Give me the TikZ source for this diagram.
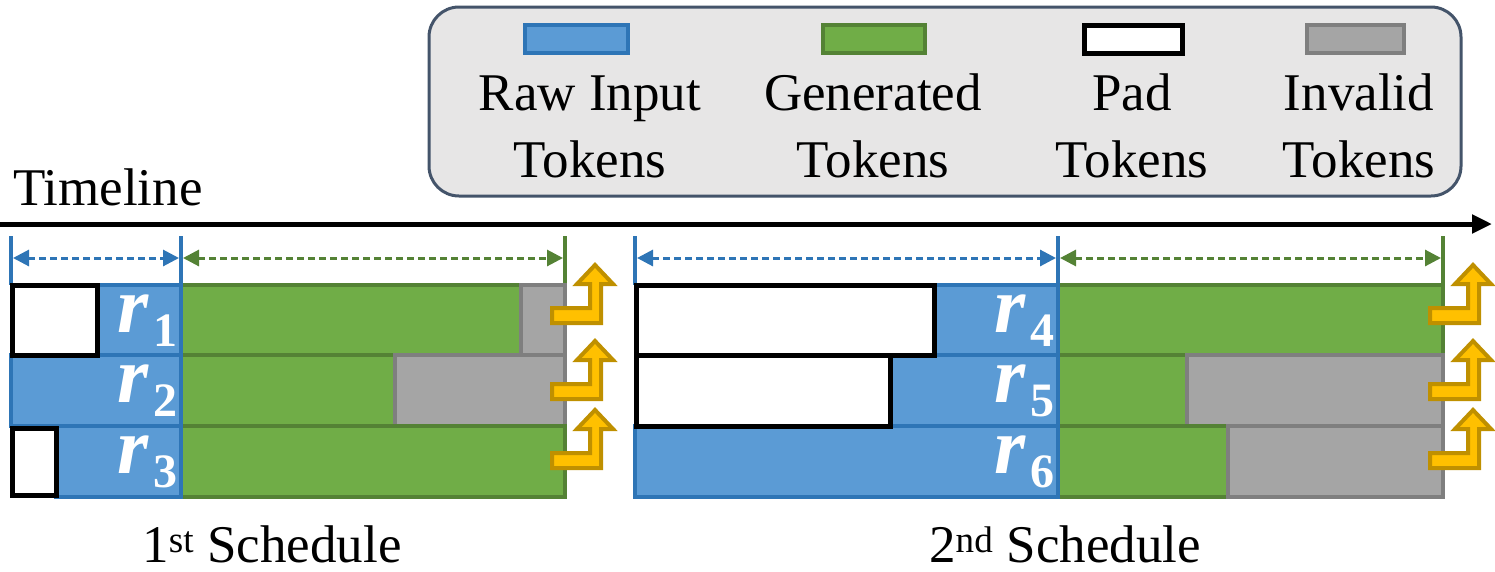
\documentclass[tikz,border=0pt]{standalone}
\usepackage{fontspec}
\setmainfont{Liberation Serif}
\usetikzlibrary{calc}
\usetikzlibrary{arrows.meta}
\definecolor{rawfill}{HTML}{5B9BD5}
\definecolor{rawline}{HTML}{2E75B6}
\definecolor{genfill}{HTML}{70AD47}
\definecolor{genline}{HTML}{548235}
\definecolor{invfill}{HTML}{A5A5A5}
\definecolor{invline}{HTML}{7F7F7F}
\definecolor{arrfill}{HTML}{FFC000}
\definecolor{arrline}{HTML}{BF9000}
\definecolor{legfill}{HTML}{E7E6E6}
\definecolor{legline}{HTML}{44546A}
\newcommand{\rlab}[1]{\raisebox{0pt}[38pt][0pt]{\fontsize{80}{80}\selectfont\bfseries\itshape r}\kern5pt\raisebox{-14pt}[20pt][0pt]{\fontsize{48}{50}\selectfont\bfseries #1}}

\begin{document}
\begin{tikzpicture}[x=1pt,y=-1pt]
	\tikzstyle{raw}=[fill=rawfill,draw=rawline,line width=4pt]
	\tikzstyle{gen}=[fill=genfill,draw=genline,line width=4pt]
	\tikzstyle{inv}=[fill=invfill,draw=invline,line width=4pt]
	\tikzstyle{pad}=[fill=white,draw=black,line width=5pt]
	\tikzstyle{bigtext}=[font=\fontsize{53}{67}\selectfont,inner sep=0pt]
	\tikzstyle{legtext}=[bigtext,align=center,anchor=base]
	\tikzstyle{req}=[text=white,inner sep=0pt,anchor=base east]
	\tikzstyle{span}=[line width=3pt,dash pattern=on 7pt off 4pt,
		{Triangle[length=16pt,width=16pt]}-{Triangle[length=16pt,width=16pt]}]
	\tikzstyle{turn}=[fill=arrfill,draw=arrline,line width=4pt,line join=miter]

	\useasboundingbox (0,0) rectangle (1495,571);

	% legend
	\node [draw=legline,fill=legfill,line width=3pt,rounded corners=30pt,
		minimum width=1032pt,minimum height=189pt] (legend) at (945,101.5) {};
	\draw [raw] (525,25) rectangle (628,53);
	\draw [gen] (823,25) rectangle (925,53);
	\draw [pad] (1084,25) rectangle (1182,53);
	\draw [inv] (1307,25) rectangle (1404,53);
	\node [legtext] (lraw) at (590,177) {Raw Input\\Tokens};
	\node [legtext] (lgen) at (873,177) {Generated\\Tokens};
	\node [legtext] (lpad) at (1132,177) {Pad\\Tokens};
	\node [legtext] (linv) at (1359,177) {Invalid\\Tokens};

	% timeline
	\node [bigtext,anchor=base west] (tl) at (13,205) {Timeline};
	\coordinate (tstart) at (0,224);
	\coordinate (tend) at (1492,224);
	\draw [line width=5pt,-{Triangle[length=20pt,width=18pt]}] (tstart) -- (tend);

	% ticks
	\coordinate (a0) at (11,236);
	\coordinate (a1) at (181,236);
	\coordinate (a2) at (565,236);
	\coordinate (b0) at (635,236);
	\coordinate (b1) at (1058,236);
	\coordinate (b2) at (1443,236);
	\draw [rawline,line width=4pt] (a0) -- (11,285);
	\draw [rawline,line width=4pt] (a1) -- (181,285);
	\draw [genline,line width=4pt] (a2) -- (565,285);
	\draw [rawline,line width=4pt] (b0) -- (635,285);
	\draw [rawline,line width=4pt] (b1) -- (1058,285);
	\draw [genline,line width=4pt] (b2) -- (1443,285);

	\draw [span,rawline] ($(a0)+(2,22)$) -- ($(a1)+(-2,22)$);
	\draw [span,genline] ($(a1)+(2,22)$) -- ($(a2)+(-2,22)$);
	\draw [span,rawline] ($(b0)+(2,22)$) -- ($(b1)+(-2,22)$);
	\draw [span,genline] ($(b1)+(2,22)$) -- ($(b2)+(-2,22)$);

	% 1st schedule
	\draw [gen] (181,285) rectangle (521,355);
	\draw [inv] (521,285) rectangle (565,355);
	\draw [gen] (181,355) rectangle (395,426);
	\draw [inv] (395,355) rectangle (565,426);
	\draw [gen] (181,426) rectangle (565,497);
	\draw [raw] (97,285) rectangle (181,355);
	\draw [raw] (11,355) rectangle (181,426);
	\draw [raw] (56,426) rectangle (181,497);
	\draw [pad] (12,285) rectangle (97,355);
	\draw [pad] (12,428) rectangle (56,495);

	% 2nd schedule
	\draw [gen] (1058,285) rectangle (1443,355);
	\draw [gen] (1058,355) rectangle (1187,426);
	\draw [inv] (1187,355) rectangle (1443,426);
	\draw [gen] (1058,426) rectangle (1228,497);
	\draw [inv] (1228,426) rectangle (1443,497);
	\draw [raw] (934,285) rectangle (1058,355);
	\draw [raw] (890,355) rectangle (1058,426);
	\draw [raw] (635,426) rectangle (1058,497);
	\draw [pad] (636,285) rectangle (934,355);
	\draw [pad] (636,355) rectangle (890,426);

	\node [req] (r1) at (178,332) {\rlab{1}};
	\node [req] (r2) at (178,402) {\rlab{2}};
	\node [req] (r3) at (178,473) {\rlab{3}};
	\node [req] (r4) at (1055,332) {\rlab{4}};
	\node [req] (r5) at (1055,402) {\rlab{5}};
	\node [req] (r6) at (1055,473) {\rlab{6}};

	% turn-up arrows
	\foreach \g/\y in {565/285,565/361,565/430,1443/285,1443/361,1443/430}
		\draw [turn] ({\g-13},{\y+23}) -- ({\g+25},{\y+23}) -- ({\g+25},{\y-1})
			-- ({\g+12},{\y-1}) -- ({\g+30},{\y-20}) -- ({\g+48},{\y-1})
			-- ({\g+36},{\y-1}) -- ({\g+36},{\y+38}) -- ({\g-13},{\y+38}) -- cycle;

	\node [bigtext,anchor=base] (s1) at (272,562) {1\textsuperscript{st} Schedule};
	\node [bigtext,anchor=base] (s2) at (1065,562) {2\textsuperscript{nd} Schedule};
\end{tikzpicture}
\end{document}
